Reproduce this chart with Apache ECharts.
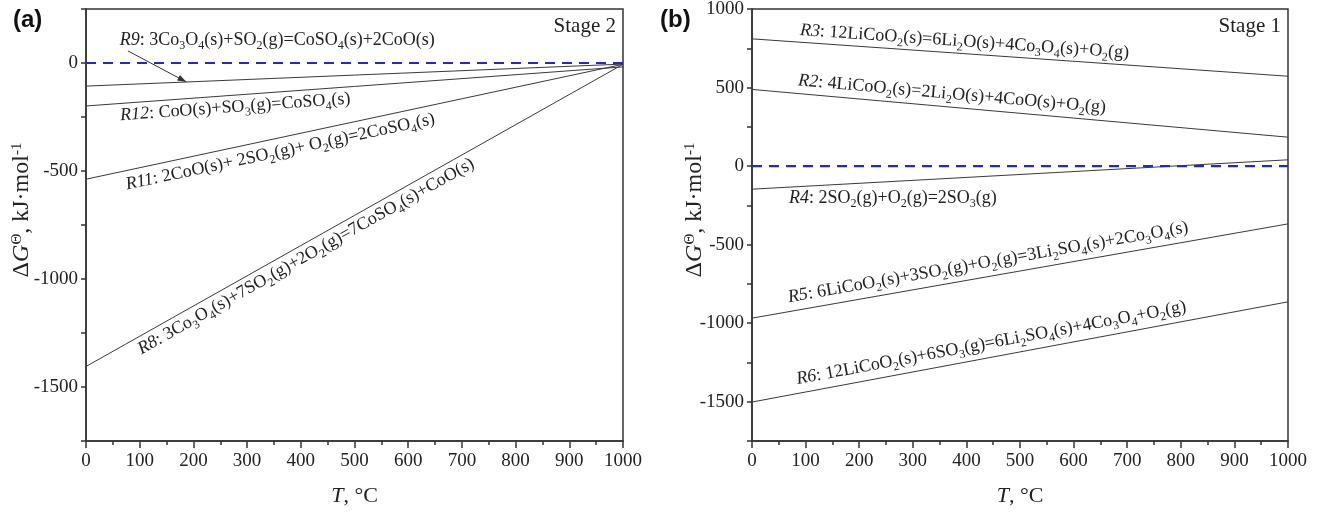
<!DOCTYPE html>
<html>
<head>
<meta charset="utf-8">
<script src="https://cdn.jsdelivr.net/npm/echarts@6/dist/echarts.min.js"></script>
<style>
html, body { margin: 0; background: #fff; }
#main { width: 1322px; height: 513px; }
</style>
</head>
<body>
<div id="main"></div>
<script>
// temperatures (°C) at which the dG lines are read
var tempC = [0, 1000];

// Stage 2, panel (a), kJ/mol
var r9 = [-107, -5];
var r12 = [-199, -18];
var r11 = [-538, -6];
var r8 = [-1405, -6];

// Stage 1, panel (b), kJ/mol
var r3 = [810, 572];
var r2 = [488, 184];
var r4 = [-147, 40];
var r5 = [-968, -368];
var r6 = [-1502, -864];

var zeroLine = [0, 0];

var xTickLabels = [0, 100, 200, 300, 400, 500, 600, 700, 800, 900, 1000];
var yTickLabelsA = [-1500, -1000, -500, 0];
var yTickLabelsB = [-1500, -1000, -500, 0, 500, 1000];

var SERIF = 'Liberation Serif';
var INK = '#222';

var chart = echarts.init(document.getElementById('main'));

function pts(vals) {
    return tempC.map(function (t, i) { return [t, vals[i]]; });
}

function lineSeries(vals, g) {
    return {
        type: 'line', xAxisIndex: g, yAxisIndex: g, data: pts(vals),
        symbol: 'none', silent: true, animation: false,
        lineStyle: { color: '#3a3a3a', width: 1 }
    };
}

function zeroSeries(g) {
    return {
        type: 'line', xAxisIndex: g, yAxisIndex: g, data: pts(zeroLine),
        symbol: 'none', silent: true, animation: false, z: 3,
        lineStyle: { color: '#2525d8', width: 2.2, type: [10, 7] }
    };
}

var nameRich = {
    n: { fontFamily: SERIF, fontSize: 22, color: INK },
    i: { fontFamily: SERIF, fontSize: 22, color: INK, fontStyle: 'italic' },
    p: { fontFamily: SERIF, fontSize: 14, color: INK, verticalAlign: 'top' }
};
var yNameRich = {
    n: { fontFamily: SERIF, fontSize: 24, color: INK },
    i: { fontFamily: SERIF, fontSize: 24, color: INK, fontStyle: 'italic' },
    p: { fontFamily: SERIF, fontSize: 15, color: INK, verticalAlign: 'top' }
};

function xAxis(g) {
    return {
        type: 'value', gridIndex: g, min: 0, max: 1000, interval: 100,
        name: '{i|T}{n|, °C}', nameLocation: 'middle', nameGap: 44, nameMoveOverlap: false,
        nameTextStyle: { rich: nameRich },
        axisLine: { onZero: false, lineStyle: { color: '#333', width: 1.5 } },
        axisTick: { length: 7, lineStyle: { color: '#333', width: 1.5 } },
        minorTick: { show: true, splitNumber: 2, length: 4, lineStyle: { color: '#333', width: 1.5 } },
        splitLine: { show: false },
        axisLabel: {
            fontFamily: SERIF, fontSize: 19, color: INK, margin: 11,
            formatter: function (v) { return xTickLabels.indexOf(v) >= 0 ? String(v) : ''; }
        }
    };
}

function yAxis(g, min, max, labels, gap) {
    return {
        type: 'value', gridIndex: g, min: min, max: max, interval: 250,
        name: '{n|Δ}{i|G}{p|Θ}{n|, kJ·mol}{p|-1}', nameLocation: 'middle', nameGap: gap,
        nameMoveOverlap: false,
        nameRotate: 90, nameTextStyle: { rich: yNameRich, padding: [0, 0, 0, 30] },
        axisLine: { onZero: false, lineStyle: { color: '#333', width: 1.5 } },
        axisTick: { length: 5, lineStyle: { color: '#333', width: 1.5 } },
        splitLine: { show: false },
        axisLabel: {
            fontFamily: SERIF, fontSize: 19, color: INK, margin: 8,
            formatter: function (v) { return labels.indexOf(v) >= 0 ? String(v) : ''; }
        }
    };
}

var gridBase = { top: 9, bottom: 72, show: true, borderColor: '#333', borderWidth: 1.5, outerBoundsMode: 'none' };

chart.setOption({
    backgroundColor: '#fff',
    animation: false,
    title: [
        { text: '(a)', left: 8, top: 3, textStyle: { fontFamily: 'Liberation Sans', fontWeight: 'bold', fontSize: 24, color: '#111' } },
        { text: '(b)', left: 655, top: 3, textStyle: { fontFamily: 'Liberation Sans', fontWeight: 'bold', fontSize: 24, color: '#111' } }
    ],
    grid: [
        Object.assign({ left: 86, right: 699 }, gridBase),
        Object.assign({ left: 752, right: 34 }, gridBase)
    ],
    xAxis: [xAxis(0), xAxis(1)],
    yAxis: [yAxis(0, -1750, 250, yTickLabelsA, 52), yAxis(1, -1750, 1000, yTickLabelsB, 45)],
    series: [
        lineSeries(r9, 0), lineSeries(r12, 0), lineSeries(r11, 0), lineSeries(r8, 0), zeroSeries(0),
        lineSeries(r3, 1), lineSeries(r2, 1), lineSeries(r4, 1), lineSeries(r5, 1), lineSeries(r6, 1), zeroSeries(1)
    ]
});

// reaction labels, written along their lines
var labelRich = {
    n: { fontFamily: SERIF, fontSize: 18, color: INK, lineHeight: 24 },
    i: { fontFamily: SERIF, fontSize: 18, color: INK, fontStyle: 'italic', lineHeight: 24 },
    s: { fontFamily: SERIF, fontSize: 12, color: INK, verticalAlign: 'bottom', lineHeight: 14 }
};

function toRich(s) {
    var m = /^(R\d+)(.*)$/.exec(s);
    var out = '{i|' + m[1] + '}', buf = '', rest = m[2];
    for (var k = 0; k < rest.length; k++) {
        var c = rest[k];
        if (c === '_') {
            if (buf) { out += '{n|' + buf + '}'; buf = ''; }
            out += '{s|' + rest[++k] + '}';
        } else {
            buf += c;
        }
    }
    if (buf) out += '{n|' + buf + '}';
    return out;
}

var labelDefs = [
    { g: 0, text: 'R9: 3Co_3O_4(s)+SO_2(g)=CoSO_4(s)+2CoO(s)', at: [63, 106] },
    { g: 0, text: 'R12: CoO(s)+SO_3(g)=CoSO_4(s)', vals: r12, t: 62, off: -12 },
    { g: 0, text: 'R11: 2CoO(s)+ 2SO_2(g)+ O_2(g)=2CoSO_4(s)', vals: r11, t: 69, off: -14 },
    { g: 0, text: 'R8: 3Co_3O_4(s)+7SO_2(g)+2O_2(g)=7CoSO_4(s)+CoO(s)', vals: r8, t: 88, off: -12 },
    { g: 1, text: 'R3: 12LiCoO_2(s)=6Li_2O(s)+4Co_3O_4(s)+O_2(g)', vals: r3, t: 88, off: 12 },
    { g: 1, text: 'R2: 4LiCoO_2(s)=2Li_2O(s)+4CoO(s)+O_2(g)', vals: r2, t: 84, off: 13 },
    { g: 1, text: 'R4: 2SO_2(g)+O_2(g)=2SO_3(g)', vals: r4, t: 68, off: -11, flat: true },
    { g: 1, text: 'R5: 6LiCoO_2(s)+3SO_2(g)+O_2(g)=3Li_2SO_4(s)+2Co_3O_4(s)', vals: r5, t: 72, off: 14 },
    { g: 1, text: 'R6: 12LiCoO_2(s)+6SO_3(g)=6Li_2SO_4(s)+4Co_3O_4+O_2(g)', vals: r6, t: 88, off: 14 }
];

function px(g, p) { return chart.convertToPixel({ gridIndex: g }, p); }

var graphics = [];
labelDefs.forEach(function (d) {
    var x, y, rot = 0;
    if (d.at) {
        var p = px(d.g, d.at);
        x = p[0]; y = p[1];
    } else {
        var t0 = tempC[0], t1 = tempC[tempC.length - 1];
        var a = px(d.g, [t0, d.vals[0]]);
        var b = px(d.g, [t1, d.vals[d.vals.length - 1]]);
        var f = (d.t - t0) / (t1 - t0);
        var ang = Math.atan2(a[1] - b[1], b[0] - a[0]);
        var lx = a[0] + (b[0] - a[0]) * f, ly = a[1] + (b[1] - a[1]) * f;
        x = lx - Math.sin(ang) * d.off;
        y = ly - Math.cos(ang) * d.off;
        rot = d.flat ? 0 : ang;
    }
    graphics.push({
        type: 'text', x: x, y: y, rotation: rot, silent: true,
        style: { text: toRich(d.text), rich: labelRich, align: 'left', verticalAlign: 'middle', fill: INK }
    });
});

// arrow from the R9 label down to its line
var arrowFrom = px(0, [78, 56]);
var arrowT = 187;
var arrowTo = px(0, [arrowT, r9[0] + (r9[1] - r9[0]) * arrowT / 1000]);
var dx = arrowTo[0] - arrowFrom[0], dy = arrowTo[1] - arrowFrom[1];
var len = Math.sqrt(dx * dx + dy * dy), ux = dx / len, uy = dy / len;
graphics.push({
    type: 'line', silent: true,
    shape: { x1: arrowFrom[0], y1: arrowFrom[1], x2: arrowTo[0], y2: arrowTo[1] },
    style: { stroke: '#333', lineWidth: 1 }
});
graphics.push({
    type: 'polygon', silent: true,
    shape: { points: [
        [arrowTo[0], arrowTo[1]],
        [arrowTo[0] - ux * 9 - uy * 3, arrowTo[1] - uy * 9 + ux * 3],
        [arrowTo[0] - ux * 9 + uy * 3, arrowTo[1] - uy * 9 - ux * 3]
    ] },
    style: { fill: '#333' }
});

// stage tags in the top-right corner of each panel
[[0, 250, 'Stage 2'], [1, 1000, 'Stage 1']].forEach(function (s) {
    var c = px(s[0], [1000, s[1]]);
    graphics.push({
        type: 'text', x: c[0] - 7, y: c[1] + 17, silent: true,
        style: { text: s[2], fontFamily: SERIF, fontSize: 21, fill: INK, align: 'right', verticalAlign: 'middle' }
    });
});

chart.setOption({ graphic: graphics });
</script>
</body>
</html>
